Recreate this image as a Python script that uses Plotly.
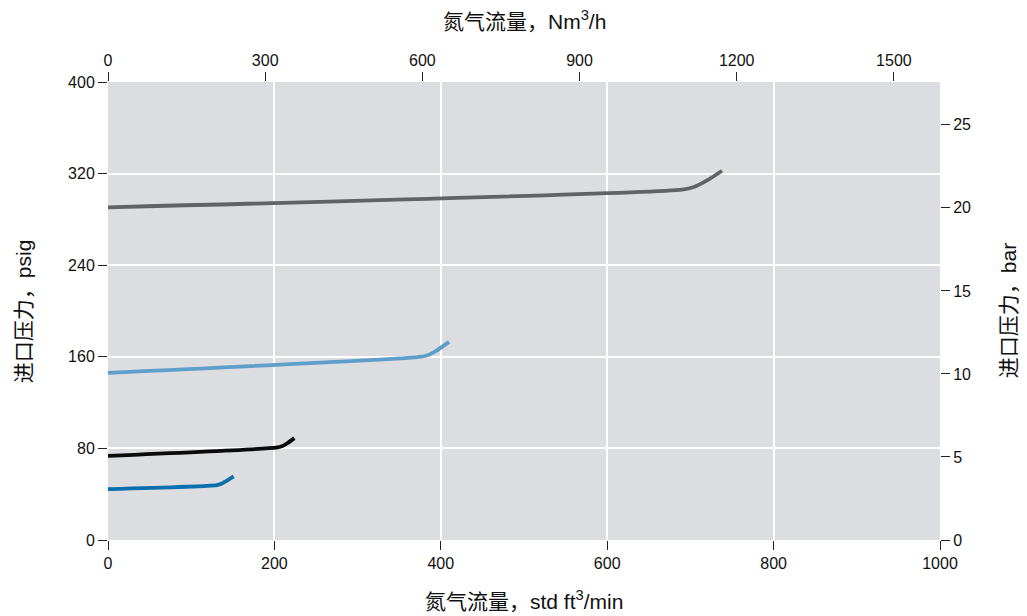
import plotly.graph_objects as go

# Data (std ft3/min vs psig)
gray_x = [0, 690, 705, 720, 738]
gray_y = [290.5, 306, 308.5, 314, 322.5]
lblue_x = [0, 372, 384, 394, 410]
lblue_y = [146, 159.7, 161.3, 165, 173]
black_x = [0, 202, 209, 215, 224]
black_y = [73.5, 80.6, 81.8, 84.3, 89]
blue_x = [0, 131, 137, 142, 151]
blue_y = [44.5, 48, 49.3, 51.5, 55.5]

series = [
    ("gray", gray_x, gray_y, "#616264"),
    ("lightblue", lblue_x, lblue_y, "#5e9fc9"),
    ("black", black_x, black_y, "#0a0a0a"),
    ("blue", blue_x, blue_y, "#0b6fae"),
]

bottom_ticks = [0, 200, 400, 600, 800, 1000]
top_ticks = [0, 300, 600, 900, 1200, 1500]
left_ticks = [0, 80, 160, 240, 320, 400]
right_ticks = [0, 5, 10, 15, 20, 25]

SCFM_TO_NM3H = 1.588
PSI_TO_BAR = 0.0689476

font_fam = "Liberation Sans, Arial, Noto Sans CJK SC, sans-serif"
title_font = dict(family="Liberation Sans, Noto Sans CJK SC, sans-serif", size=21, color="#111")
tick_font = dict(family=font_fam, size=16, color="#111")

fig = go.Figure()
for name, xs, ys, col in series:
    fig.add_trace(go.Scatter(x=xs, y=ys, mode="lines", name=name,
                             line=dict(color=col, width=3.8, shape="spline", smoothing=0.6),
                             showlegend=False, hoverinfo="skip"))
# dummy trace for secondary axes
fig.add_trace(go.Scatter(x=[0], y=[0], xaxis="x2", yaxis="y2", mode="markers",
                         marker=dict(opacity=0), showlegend=False, hoverinfo="skip"))

axis_common = dict(ticks="outside", ticklen=9, tickwidth=1, tickcolor="#222",
                   showline=False, zeroline=False, tickfont=tick_font, automargin=False)

fig.update_layout(
    width=1019, height=608,
    paper_bgcolor="white", plot_bgcolor="#dcdde0",
    margin=dict(l=100, r=87, t=74, b=76),
    xaxis=dict(range=[0, 1000], tickvals=bottom_ticks, showgrid=True, gridcolor="white",
               gridwidth=1.5, **axis_common),
    xaxis2=dict(range=[0, 1000 * SCFM_TO_NM3H], tickvals=top_ticks, overlaying="x", side="top",
                showgrid=False, **axis_common),
    yaxis=dict(range=[0, 400], tickvals=left_ticks, showgrid=True, gridcolor="white",
               gridwidth=1.5, **axis_common),
    yaxis2=dict(range=[0, 400 * PSI_TO_BAR], tickvals=right_ticks, overlaying="y", side="right",
                showgrid=False, **axis_common),
    annotations=[
        dict(text="氮气流量，std ft<sup>3</sup>/min", xref="paper", yref="paper",
             x=0.5, y=-0.131, yanchor="middle", xanchor="center", showarrow=False, font=title_font),
        dict(text="氮气流量，Nm<sup>3</sup>/h", xref="paper", yref="paper",
             x=0.5, y=1.135, yanchor="middle", xanchor="center", showarrow=False, font=title_font),
        dict(text="进口压力，psig", xref="paper", yref="paper", textangle=-90,
             x=-0.102, y=0.5, xanchor="center", yanchor="middle", showarrow=False, font=title_font),
        dict(text="进口压力，bar", xref="paper", yref="paper", textangle=-90,
             x=1.082, y=0.5, xanchor="center", yanchor="middle", showarrow=False, font=title_font),
    ],
)

fig.write_html("out.html")
